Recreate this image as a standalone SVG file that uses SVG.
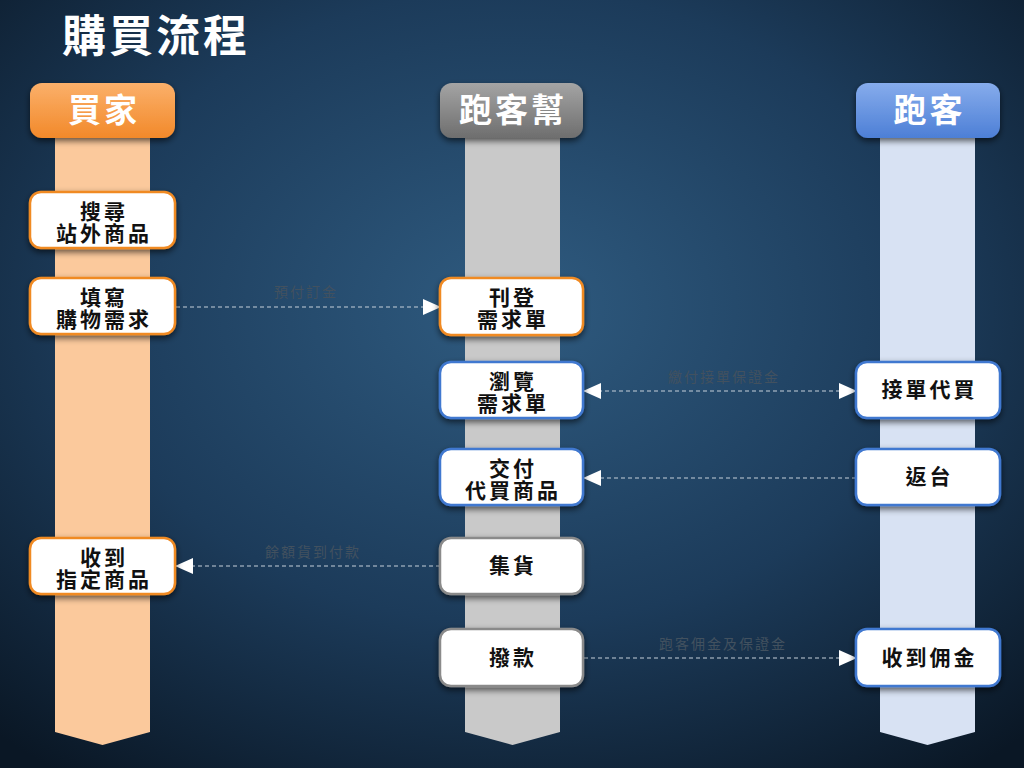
<svg xmlns="http://www.w3.org/2000/svg" width="1024" height="768" viewBox="0 0 1024 768">
<defs>
<radialGradient id="bg" cx="0.5" cy="0.4" r="0.75">
<stop offset="0" stop-color="#2f5b80"/>
<stop offset="0.55" stop-color="#1c3b5a"/>
<stop offset="1" stop-color="#0a1725"/>
</radialGradient>
<linearGradient id="gOrange" x1="0" y1="0" x2="0" y2="1">
<stop offset="0" stop-color="#fbb06a"/>
<stop offset="1" stop-color="#f2892a"/>
</linearGradient>
<linearGradient id="gGray" x1="0" y1="0" x2="0" y2="1">
<stop offset="0" stop-color="#a4a4a4"/>
<stop offset="1" stop-color="#6e6e6e"/>
</linearGradient>
<linearGradient id="gBlue" x1="0" y1="0" x2="0" y2="1">
<stop offset="0" stop-color="#86acec"/>
<stop offset="1" stop-color="#4d7fd6"/>
</linearGradient>
<filter id="sh" x="-20%" y="-20%" width="140%" height="150%">
<feDropShadow dx="0" dy="3" stdDeviation="3" flood-color="#000" flood-opacity="0.6"/>
</filter>
<marker id="arr" viewBox="0 0 18 16" refX="17" refY="8" markerWidth="18" markerHeight="16" markerUnits="userSpaceOnUse" orient="auto-start-reverse">
<path d="M0,0 L18,8 L0,16 Z" fill="#ffffff"/>
</marker>
<style>
.title{font-family:"Noto Sans CJK TC","Noto Sans CJK SC",sans-serif;font-weight:bold;font-size:44px;letter-spacing:3px;fill:#ffffff}
.head{font-family:"Noto Sans CJK TC","Noto Sans CJK SC",sans-serif;font-weight:bold;font-size:33px;letter-spacing:3px;fill:#ffffff;text-anchor:middle}
.node{fill:#ffffff;stroke-width:2.5;filter:url(#sh)}
.o{stroke:#f08a24}
.b{stroke:#3f78d0}
.g{stroke:#8a8a8a}
.nt{font-family:"Noto Sans CJK TC","Noto Sans CJK SC",sans-serif;font-weight:bold;font-size:21px;letter-spacing:3px;fill:#111111;text-anchor:middle}
.conn{stroke:#c6d0da;stroke-width:1.2;stroke-dasharray:4 3;fill:none}
.lbl{font-family:"Noto Sans CJK TC","Noto Sans CJK SC",sans-serif;font-size:14px;letter-spacing:2px;fill:#42515f;text-anchor:middle}
</style>
</defs>
<rect x="0" y="0" width="1024" height="768" fill="url(#bg)"/>
<text class="title" x="62" y="52">購買流程</text>

<g id="lanes">
<path d="M55,138 H150 V732 L102.5,745 L55,732 Z" fill="#fbc99c"/>
<path d="M465,138 H560 V732 L512.5,745 L465,732 Z" fill="#c9c9c9"/>
<path d="M880,138 H975 V732 L927.5,745 L880,732 Z" fill="#d8e2f3"/>
</g>

<g id="head-buyer">
<rect x="30" y="83" width="145" height="55" rx="12" fill="url(#gOrange)" filter="url(#sh)"/>
<text class="head" x="104" y="122">買家</text>
</g>
<g id="head-platform">
<rect x="440" y="83" width="143" height="55" rx="12" fill="url(#gGray)" filter="url(#sh)"/>
<text class="head" x="513" y="122">跑客幫</text>
</g>
<g id="head-runner">
<rect x="856" y="83" width="144" height="55" rx="12" fill="url(#gBlue)" filter="url(#sh)"/>
<text class="head" x="929.5" y="122">跑客</text>
</g>

<g id="connectors">
<line class="conn" x1="176" y1="307" x2="440" y2="307" marker-end="url(#arr)"/>
<text class="lbl" x="306" y="297">預付訂金</text>
<line class="conn" x1="584" y1="391" x2="856" y2="391" marker-start="url(#arr)" marker-end="url(#arr)"/>
<text class="lbl" x="724" y="382">繳付接單保證金</text>
<line class="conn" x1="856" y1="478" x2="584" y2="478" marker-end="url(#arr)"/>
<line class="conn" x1="440" y1="566" x2="176" y2="566" marker-end="url(#arr)"/>
<text class="lbl" x="313" y="557">餘額貨到付款</text>
<line class="conn" x1="584" y1="658" x2="856" y2="658" marker-end="url(#arr)"/>
<text class="lbl" x="723" y="649">跑客佣金及保證金</text>
</g>

<g id="n-search">
<rect class="node o" x="30" y="192" width="145" height="56" rx="11"/>
<text class="nt"><tspan x="104" y="219">搜尋</tspan><tspan x="104" y="241">站外商品</tspan></text>
</g>
<g id="n-fill">
<rect class="node o" x="30" y="278" width="145" height="56" rx="11"/>
<text class="nt"><tspan x="104" y="305">填寫</tspan><tspan x="104" y="327">購物需求</tspan></text>
</g>
<g id="n-receive">
<rect class="node o" x="30" y="538" width="145" height="56" rx="11"/>
<text class="nt"><tspan x="104" y="565">收到</tspan><tspan x="104" y="587">指定商品</tspan></text>
</g>

<g id="n-post">
<rect class="node o" x="440" y="278" width="143" height="57" rx="11"/>
<text class="nt"><tspan x="513" y="305">刊登</tspan><tspan x="513" y="327">需求單</tspan></text>
</g>
<g id="n-browse">
<rect class="node b" x="440" y="362" width="143" height="56" rx="11"/>
<text class="nt"><tspan x="513" y="389">瀏覽</tspan><tspan x="513" y="411">需求單</tspan></text>
</g>
<g id="n-deliver">
<rect class="node b" x="440" y="449" width="143" height="56" rx="11"/>
<text class="nt"><tspan x="513" y="476">交付</tspan><tspan x="513" y="498">代買商品</tspan></text>
</g>
<g id="n-collect">
<rect class="node g" x="440" y="538" width="143" height="56" rx="11"/>
<text class="nt" x="513" y="573">集貨</text>
</g>
<g id="n-pay">
<rect class="node g" x="440" y="629" width="143" height="57" rx="11"/>
<text class="nt" x="513" y="665">撥款</text>
</g>

<g id="n-accept">
<rect class="node b" x="856" y="362" width="144" height="56" rx="11"/>
<text class="nt" x="929.5" y="397">接單代買</text>
</g>
<g id="n-return">
<rect class="node b" x="856" y="449" width="144" height="56" rx="11"/>
<text class="nt" x="929.5" y="484">返台</text>
</g>
<g id="n-commission">
<rect class="node b" x="856" y="629" width="144" height="57" rx="11"/>
<text class="nt" x="929.5" y="665">收到佣金</text>
</g>
</svg>
